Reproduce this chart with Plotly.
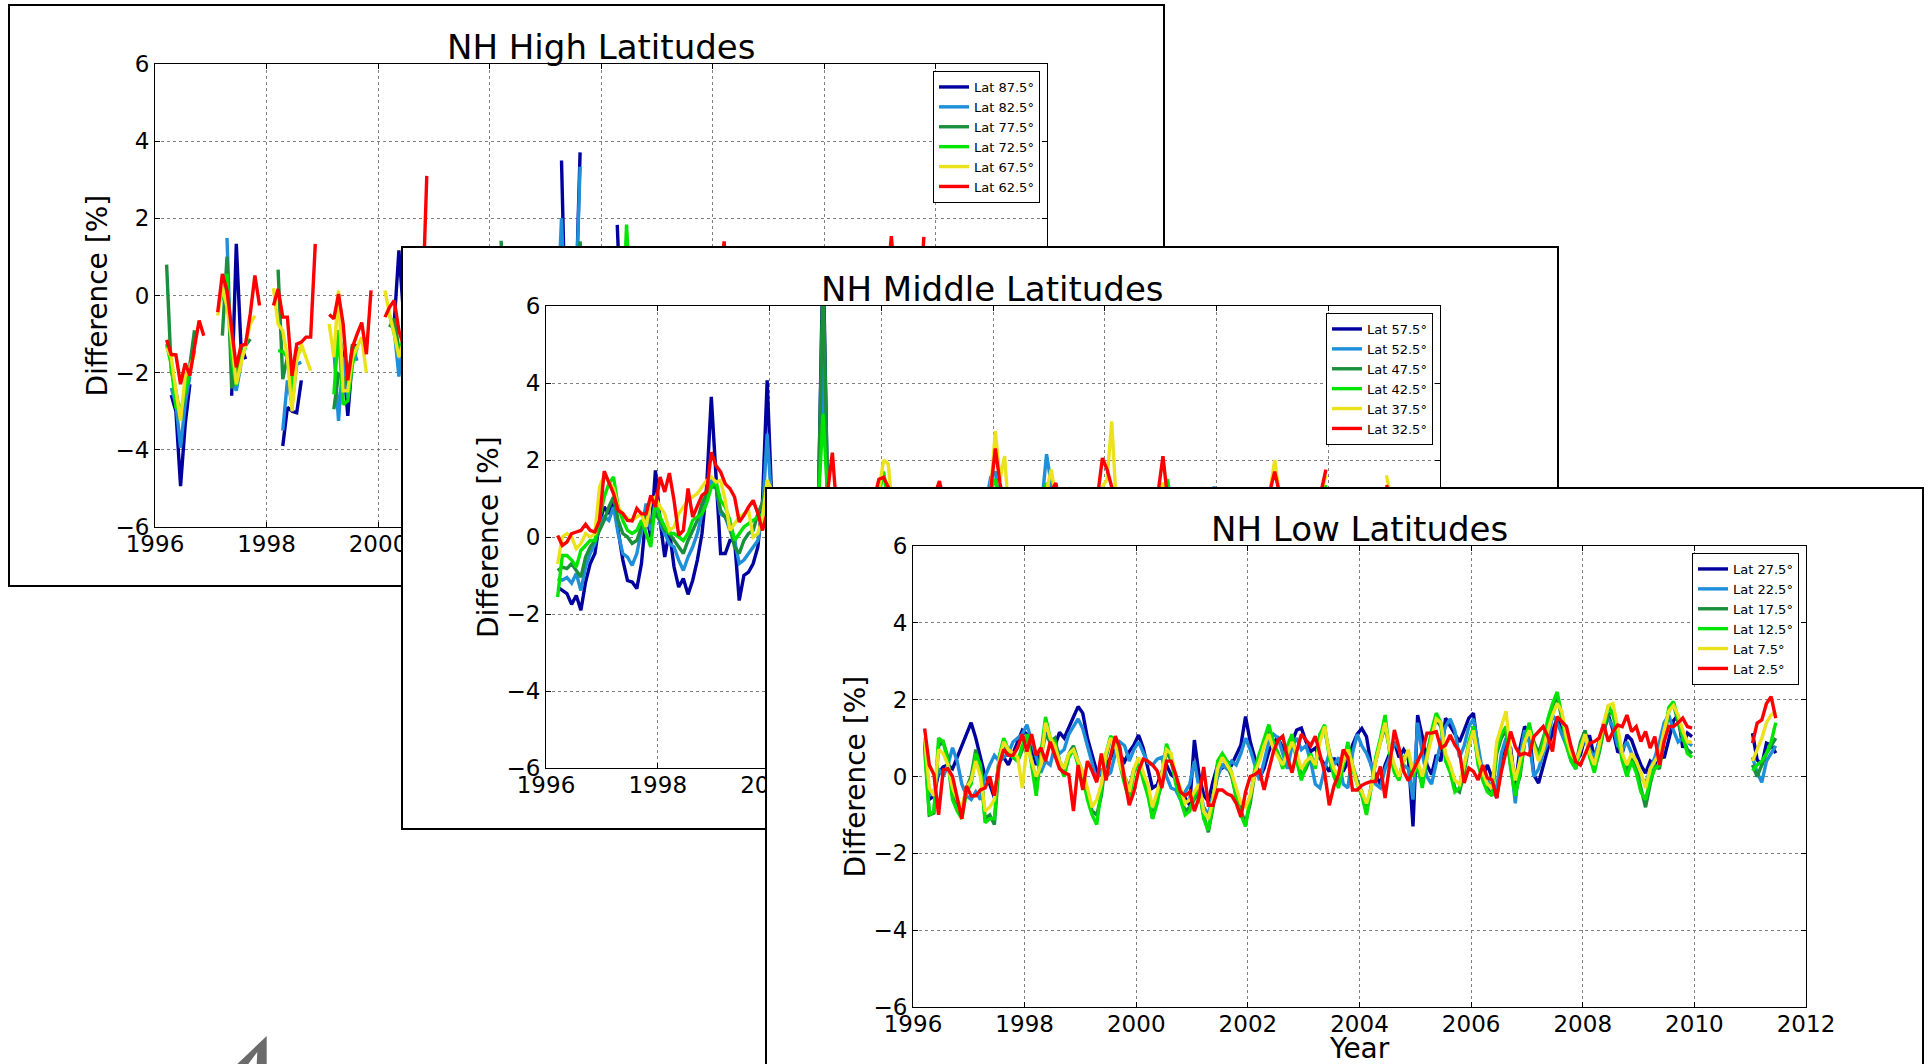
import plotly.graph_objects as go

# ---------------------------------------------------------------- data
# monthly values, March 1996 .. December 2009 (166 months), then Jan..Jun 2011
START_YEAR, START_MONTH, N_MAIN = 1996, 3, 166
months_main = [START_YEAR + (START_MONTH - 1 + k + 0.5) / 12 for k in range(N_MAIN)]
months_2011 = [2011 + (m + 0.5) / 12 for m in range(6)]

x_ticks = [1996, 1998, 2000, 2002, 2004, 2006, 2008, 2010, 2012]
x_ticktext = ["1996", "1998", "2000", "2002", "2004", "2006", "2008", "2010", "2012"]
y_ticks = [-6, -4, -2, 0, 2, 4, 6]
y_ticktext = ["\u22126", "\u22124", "\u22122", "0", "2", "4", "6"]

N = None

# ---- NH High Latitudes
hi_labels = ["Lat 87.5°", "Lat 82.5°", "Lat 77.5°", "Lat 72.5°", "Lat 67.5°", "Lat 62.5°"]
hi_87_5 = [
    N, -2.58, -3.0, -4.94, -3.34, -2.3, N, N, N, N,
    N, N, N, N, -2.6, 1.34, -1.3, -1.65, N, N, N, N,
    N, N, N, -3.9, -2.9, -3.0, -3.04, -2.2, N, N, N, N,
    N, N, N, -0.9, -1.6, -3.12, -1.6, -1.26, N, N, N, N,
    N, N, N, -0.7, 1.17, -0.5, -1.0, -0.8, N, N, N, N,
    N, N, N, -1.5, -2.0, -1.2, -0.8, -1.0, N, N, N, N,
    N, N, N, -1.2, -1.8, -1.0, -0.6, -0.9, N, N, N, N,
    N, N, N, 3.5, -1.5, -0.8, -0.5, 3.71, N, N, N, N,
    N, N, N, 1.83, -1.2, -0.7, -0.4, -0.6, N, N, N, N,
    N, N, N, -1.0, -1.4, -0.9, -0.5, -0.7, N, N, N, N,
    N, N, N, 1.25, -1.1, -0.8, -0.4, -0.6, N, N, N, N,
    N, N, N, -0.8, -1.3, -0.7, -0.3, -0.5, N, N, N, N,
    N, N, N, -0.9, -1.2, -0.8, -0.4, -0.6, N, N, N, N,
    N, N, N, -0.7, -1.1, -0.6, -0.3, -0.5, N, N, N, N,
]
hi_87_5_2011 = [N, N, N, -0.6, -1.0, -0.5]
hi_82_5 = [
    N, -2.4, -2.8, -3.95, -2.8, -2.1, N, N, N, N,
    N, N, N, 1.49, -2.1, -2.47, -1.78, N, N, N, N, N,
    N, N, N, -3.5, -2.2, -2.82, -1.78, -1.73, N, N, N, N,
    N, N, -1.36, -3.25, -1.6, -2.65, -1.34, -1.69, N, N, N, N,
    N, N, N, -0.9, -2.1, -1.0, -1.2, -0.6, N, N, N, N,
    N, N, -1.0, -1.6, -1.9, -1.1, -0.8, -0.9, N, N, N, N,
    N, N, -0.9, -1.4, -1.6, -1.0, -0.7, -0.8, N, N, N, N,
    N, N, -0.8, 2.0, -1.3, -0.8, -0.5, 3.34, N, N, N, N,
    N, N, -0.7, -1.1, -1.4, -0.8, -0.5, -0.6, N, N, N, N,
    N, N, -0.6, -1.0, -1.3, -0.7, -0.4, -0.5, N, N, N, N,
    N, N, -0.5, -0.9, -1.2, -0.7, -0.4, -0.5, N, N, N, N,
    N, N, -0.6, -0.9, -1.1, -0.6, -0.3, -0.4, N, N, N, N,
    N, N, -0.5, -0.8, -1.1, -0.6, -0.3, -0.5, N, N, N, N,
    N, N, -0.4, -0.7, -1.0, -0.5, -0.2, -0.4, N, N, N, N,
]
hi_82_5_2011 = [N, N, -0.4, -0.7, -0.9, -0.5]
hi_77_5 = [
    0.8, -1.95, -2.47, -3.2, -2.5, -1.8, -0.9, N, N, N,
    N, N, -1.04, 1.0, -2.4, -2.1, -1.35, -1.3, -1.13, N, N, N,
    N, N, 0.67, -2.17, -1.6, -2.65, -1.43, -1.34, N, N, N, N,
    N, N, -2.95, -2.04, -2.13, -2.3, -1.26, -1.43, N, N, N, N,
    N, N, -0.82, -0.6, -1.4, -1.2, -0.9, -0.7, -0.5, N, N, N,
    N, N, -0.5, -1.3, -1.6, -1.1, -0.8, -0.6, -0.7, N, N, N,
    N, N, 1.42, -1.2, -1.5, -1.0, -0.7, -0.5, -0.6, N, N, N,
    N, N, -0.3, -1.1, -1.4, -0.9, -0.6, 1.4, -0.5, N, N, N,
    N, N, -0.4, -1.0, -1.3, -0.8, -0.5, -0.4, -0.5, N, N, N,
    N, N, -0.3, -0.9, -1.2, -0.7, -0.5, -0.3, -0.4, N, N, N,
    N, N, -0.2, -0.8, -1.1, -0.7, -0.4, -0.3, -0.4, N, N, N,
    N, N, -0.3, -0.8, -1.0, -0.6, -0.4, -0.2, -0.3, N, N, N,
    N, N, -0.2, -0.7, -1.0, -0.6, -0.3, -0.2, -0.3, N, N, N,
    N, N, -0.1, -0.6, -0.9, -0.5, -0.3, -0.1, -0.2, N, N, N,
]
hi_77_5_2011 = [N, N, -0.2, -0.6, -0.9, -0.5]
hi_72_5 = [
    -1.26, -1.8, -2.9, -3.0, -2.5, -1.95, -1.43, N, N, N,
    N, N, -0.13, 0.56, -1.6, -2.34, -1.6, -1.35, N, N, N, N,
    N, N, -1.43, -1.45, -1.6, -2.47, -1.6, -1.34, N, N, N, N,
    N, N, -2.56, -0.9, -2.82, -2.73, -1.78, -1.34, N, N, N, N,
    N, N, -0.5, -1.0, -1.5, -1.1, -0.8, -0.6, N, N, N, N,
    N, N, -0.6, -1.2, -1.5, -1.0, -0.7, -0.5, N, N, N, N,
    N, N, -0.4, -1.0, -1.4, -0.9, -0.6, -0.4, N, N, N, N,
    N, N, -0.3, -0.9, -1.3, -0.8, -0.5, -0.3, N, N, N, N,
    N, N, -0.3, -0.8, -1.2, 1.84, -0.5, -0.3, N, N, N, N,
    N, N, -0.2, -0.8, -1.1, -0.7, -0.4, -0.2, N, N, N, N,
    N, N, -0.2, -0.7, -1.0, -0.7, -0.4, -0.2, N, N, N, N,
    N, N, -0.1, -0.7, -1.0, -0.6, -0.3, -0.1, N, N, N, N,
    N, N, -0.2, -0.6, -0.9, -0.6, -0.3, -0.2, N, N, N, N,
    N, N, -0.1, -0.6, -0.9, -0.5, -0.2, -0.1, N, N, N, N,
]
hi_72_5_2011 = [N, N, -0.2, -0.5, -0.8, -0.4]
hi_67_5 = [
    -1.35, -1.6, -2.47, -3.25, -2.1, -1.86, -1.5, N, N, N,
    N, -0.52, 0.22, -0.3, -1.17, -2.3, -1.78, -1.26, -0.74, -0.52, N, N,
    N, 0.19, -0.74, -0.91, -1.6, -3.0, -1.69, -1.26, -1.6, -1.95, N, N,
    N, -0.74, -1.6, 0.13, -2.47, -2.47, -1.6, -1.34, -1.08, -2.0, N, N,
    N, 0.13, -0.5, -1.0, -1.6, -1.2, -0.9, -0.7, -0.9, -0.6, N, N,
    N, 0.0, -0.4, -0.9, -1.3, -1.0, -0.7, -0.5, -0.7, -0.5, N, N,
    N, -0.1, -0.5, -0.8, -1.2, -0.9, -0.6, -0.4, -0.6, -0.4, N, N,
    N, 0.1, -0.3, -0.8, -1.1, -0.8, -0.5, -0.3, -0.5, -0.3, N, N,
    N, 0.0, -0.4, -0.7, -1.0, -0.8, -0.5, -0.3, -0.4, -0.3, N, N,
    N, 0.1, -0.3, -0.7, -1.0, -0.7, -0.4, -0.2, -0.4, -0.2, N, N,
    N, 0.2, -0.2, -0.6, -0.9, -0.7, -0.4, -0.2, -0.3, -0.2, N, N,
    N, 0.1, -0.3, -0.6, -0.9, -0.6, -0.3, -0.1, -0.3, -0.1, N, N,
    N, 0.0, -0.3, -0.6, -0.8, -0.6, -0.3, -0.1, -0.2, -0.1, N, N,
    N, 0.2, -0.2, -0.5, -0.8, -0.5, -0.2, 0.0, -0.2, 0.0, N, N,
]
hi_67_5_2011 = [N, 0.0, -0.4, -0.8, -1.1, -0.8]
hi_62_5 = [
    -1.15, -1.53, -1.54, -2.3, -1.76, -2.08, -1.34, -0.65, -1.04, N,
    N, -0.43, 0.56, 0.13, -0.91, -1.86, -1.3, -1.26, -0.48, 0.52, -0.26, N,
    N, -0.26, 0.17, -0.56, -0.56, -2.08, -1.26, -1.21, -1.08, -1.08, 1.34, N,
    N, -0.49, -0.6, 0.04, -0.74, -2.2, -1.34, -1.0, -0.7, -1.52, 0.13, N,
    N, -0.56, -0.3, -0.13, -0.91, -1.3, -1.0, -0.8, -1.2, -0.6, 3.1, N,
    N, -0.6, -0.2, -0.5, -1.2, -1.6, -1.1, -0.9, -0.7, -1.0, 0.4, N,
    N, -0.5, 0.0, -0.4, -1.0, -1.7, -1.2, -0.8, -0.9, -1.1, 0.2, N,
    N, -0.4, 0.1, -0.6, -1.1, -1.5, -1.0, -0.7, -0.8, -0.9, 0.5, N,
    N, -0.3, 0.2, -0.5, -0.9, -1.4, -0.9, -0.6, -0.7, -0.8, 0.3, N,
    N, -0.2, 0.1, -0.3, -0.8, -1.3, -0.8, -0.5, -0.6, -0.7, 0.6, N,
    N, 0.1, 1.4, -0.2, -0.7, -1.2, -0.7, -0.4, -0.5, -0.6, 0.4, N,
    N, 0.0, 0.3, -0.1, -0.6, -1.1, -0.6, -0.3, -0.4, -0.5, 0.5, N,
    N, -0.1, 0.2, -0.2, -0.7, -1.0, -0.5, -0.3, -0.4, -0.6, 0.7, N,
    N, 0.2, 1.54, 0.0, -0.5, -0.9, -0.4, -0.2, -0.3, 1.52, N, N,
]
hi_62_5_2011 = [N, 0.0, -0.5, -1.0, -1.2, -0.8]

# ---- NH Middle Latitudes
mid_labels = ["Lat 57.5°", "Lat 52.5°", "Lat 47.5°", "Lat 42.5°", "Lat 37.5°", "Lat 32.5°"]
mid_57_5 = [
    -1.3, -1.39, -1.47, -1.75, -1.52, -1.9, -1.17, -0.69, -0.43, 0.39,
    0.78, 0.6, 0.95, 0.17, -0.6, -1.13, -1.17, -1.34, -0.69, 0.6, 0.0, 1.73,
    0.43, -0.52, 0.17, -0.78, -1.3, -1.08, -1.49, -1.13, -0.6, 0.09, 1.3, 3.64,
    1.65, -0.43, -0.43, -0.09, -0.09, -1.65, -1.0, -0.91, -0.69, -0.26, 0.95, 4.07,
    0.9, -0.2, -0.5, -0.8, -0.9, -0.6, -0.3, 0.0, 0.2, 0.5, 0.8, 7.5,
    0.8, 0.4, -0.2, -0.5, -0.7, -0.4, -0.2, 0.1, 0.3, 0.5, 0.6, 0.9,
    1.0, 0.6, 0.1, -0.3, -0.5, -0.4, -0.1, 0.2, 0.4, 0.6, 0.8, 0.9,
    1.0, 0.5, 0.0, -0.3, -0.4, -0.3, 0.0, 0.2, 0.4, 0.5, 0.7, 1.1,
    1.2, 0.6, 0.1, -0.2, -0.4, -0.3, 0.0, 0.3, 0.5, 0.6, 0.8, 1.1,
    1.0, 0.5, 0.1, -0.2, -0.3, -0.2, 0.1, 0.3, 0.4, 0.6, 0.8, 1.0,
    1.1, 0.6, 0.2, -0.1, -0.3, -0.2, 0.1, 0.3, 0.5, 0.7, 0.9, 1.0,
    1.0, 0.5, 0.2, -0.1, -0.2, -0.1, 0.2, 0.4, 0.5, 0.7, 0.9, 1.1,
    1.0, 0.6, 0.2, 0.0, -0.2, -0.1, 0.2, 0.4, 0.6, 0.8, 0.9, 1.0,
    1.1, 0.6, 0.3, 0.0, -0.1, 0.0, 0.2, 0.4, 0.6, 0.8, 1.0, 1.1,
]
mid_57_5_2011 = [1.0, 0.6, 0.3, 0.1, 0.0, 0.2]
mid_52_5 = [
    -1.08, -1.12, -1.05, -1.2, -0.95, -1.39, -0.78, -0.43, -0.17, 0.26,
    0.52, 0.43, 0.78, 0.09, -0.43, -0.52, -0.74, -0.43, 0.17, 0.87, 0.17, 0.95,
    0.35, 0.09, -0.17, -0.26, -0.6, -0.87, -0.52, -0.26, 0.09, 0.6, 0.95, 1.5,
    1.3, 0.6, 0.52, 0.17, -0.09, -0.69, -0.6, -0.43, -0.26, -0.09, 0.6, 2.68,
    0.8, 0.0, -0.3, -0.5, -0.6, -0.4, -0.2, 0.1, 0.3, 0.5, 0.8, 4.5,
    0.9, 0.5, 0.0, -0.3, -0.4, -0.3, -0.1, 0.2, 0.4, 0.5, 0.7, 1.0,
    1.1, 0.7, 0.2, -0.1, -0.3, -0.2, 0.0, 0.3, 0.4, 0.6, 0.8, 1.0,
    1.1, 0.6, 0.1, -0.1, -0.2, -0.1, 0.1, 0.3, 0.4, 0.6, 0.9, 1.55,
    1.7, 0.7, 0.2, 0.0, -0.2, -0.1, 0.1, 0.3, 0.5, 0.7, 0.9, 2.15,
    1.3, 0.6, 0.2, 0.0, -0.1, 0.0, 0.2, 0.4, 0.5, 0.7, 0.9, 1.1,
    1.1, 0.6, 0.3, 0.0, -0.1, 0.0, 0.2, 0.4, 0.6, 0.7, 0.9, 1.1,
    1.0, 0.6, 0.3, 0.0, -0.1, 0.0, 0.2, 0.4, 0.6, 0.8, 1.0, 1.3,
    1.0, 0.6, 0.3, 0.1, 0.0, 0.1, 0.3, 0.5, 0.6, 0.8, 0.9, 1.0,
    1.1, 0.7, 0.3, 0.1, 0.0, 0.1, 0.3, 0.5, 0.7, 0.9, 1.0, 1.2,
]
mid_52_5_2011 = [1.0, 0.7, 0.4, 0.2, 0.1, 0.3]
mid_47_5 = [
    -0.87, -0.78, -0.82, -0.69, -0.87, -1.04, -0.52, -0.26, -0.09, 0.17,
    0.43, 0.78, 1.04, 0.43, 0.09, 0.0, -0.17, -0.09, 0.26, 0.6, 0.35, 0.6,
    0.43, 0.17, 0.09, -0.09, -0.26, -0.43, -0.09, 0.17, 0.43, 0.87, 1.13, 1.3,
    1.3, 0.69, 0.52, 0.26, -0.26, -0.43, -0.09, 0.09, 0.17, 0.6, 0.9, 1.43,
    1.0, 0.4, 0.0, -0.2, -0.3, -0.2, 0.0, 0.2, 0.4, 0.6, 0.9, 7.0,
    1.0, 0.6, 0.2, 0.0, -0.1, 0.0, 0.1, 0.3, 0.5, 0.6, 0.8, 1.0,
    1.2, 0.8, 0.3, 0.1, 0.0, 0.0, 0.2, 0.4, 0.5, 0.7, 0.9, 1.1,
    1.1, 0.7, 0.3, 0.1, 0.0, 0.1, 0.2, 0.4, 0.5, 0.7, 0.9, 1.1,
    1.2, 0.8, 0.3, 0.1, 0.0, 0.1, 0.2, 0.4, 0.6, 0.7, 0.9, 1.2,
    1.1, 0.7, 0.3, 0.1, 0.1, 0.1, 0.3, 0.4, 0.6, 0.8, 0.9, 1.1,
    1.2, 0.7, 0.3, 0.1, 0.0, 0.1, 0.3, 0.5, 0.6, 0.8, 0.9, 1.1,
    1.2, 0.8, 0.4, 0.2, 0.1, 0.1, 0.3, 0.5, 0.6, 0.8, 1.0, 1.1,
    1.1, 0.7, 0.4, 0.2, 0.1, 0.2, 0.3, 0.5, 0.7, 0.8, 0.9, 1.0,
    1.1, 0.7, 0.4, 0.2, 0.1, 0.2, 0.3, 0.5, 0.7, 0.9, 1.0, 1.3,
]
mid_47_5_2011 = [1.0, 0.8, 0.5, 0.3, 0.2, 0.4]
mid_42_5 = [
    -1.56, -0.48, -0.48, -0.6, -0.78, -0.35, -0.22, -0.09, -0.09, 0.52,
    1.04, 1.39, 1.56, 0.78, 0.43, 0.17, 0.09, 0.17, 0.43, 0.09, -0.26, 0.95,
    0.52, 0.26, 0.09, 0.09, 0.0, -0.09, 0.09, 0.43, 0.52, 0.6, 0.87, 1.3,
    1.43, 0.95, 0.78, 0.43, -0.09, 0.09, 0.26, 0.35, 0.43, 0.52, 0.6, 0.8,
    0.9, 0.5, 0.2, 0.0, -0.1, 0.0, 0.1, 0.3, 0.5, 0.7, 0.9, 3.2,
    1.0, 0.7, 0.3, 0.1, 0.0, 0.1, 0.2, 0.4, 0.5, 0.7, 0.9, 1.1,
    1.7, 0.9, 0.4, 0.2, 0.1, 0.1, 0.3, 0.4, 0.6, 0.7, 0.9, 1.1,
    1.2, 0.8, 0.4, 0.2, 0.1, 0.1, 0.3, 0.4, 0.6, 0.8, 1.0, 1.2,
    1.5, 0.9, 0.4, 0.2, 0.1, 0.2, 0.3, 0.5, 0.6, 0.8, 1.0, 1.4,
    1.1, 0.8, 0.4, 0.2, 0.1, 0.2, 0.3, 0.5, 0.6, 0.8, 1.0, 1.2,
    1.2, 0.8, 0.4, 0.2, 0.1, 0.2, 0.3, 0.5, 0.7, 0.8, 1.0, 1.1,
    1.2, 1.5, 0.5, 0.3, 0.2, 0.2, 0.4, 0.5, 0.7, 0.8, 1.0, 1.1,
    1.1, 0.8, 0.5, 0.3, 0.2, 0.2, 0.4, 0.5, 0.7, 0.9, 1.0, 1.1,
    1.2, 0.8, 0.5, 0.3, 0.2, 0.3, 0.4, 0.6, 0.7, 0.9, 1.0, 1.35,
]
mid_42_5_2011 = [1.1, 0.9, 0.6, 0.4, 0.3, 0.5]
mid_37_5 = [
    -0.7, 0.0, 0.09, 0.0, -0.3, -0.17, 0.09, 0.0, 0.09, 1.3,
    1.6, 1.43, 1.26, 0.78, 0.6, 0.48, 0.43, 0.52, 0.6, 0.26, 0.95, 1.04,
    0.78, 0.6, 0.17, 0.26, 0.6, 0.78, 0.95, 1.04, 1.13, 1.3, 1.47, 1.56,
    1.43, 1.47, 0.95, 0.17, 0.35, 0.52, 0.6, 0.69, 0.0, 0.09, 0.5, 1.48,
    1.2, 0.8, 0.4, 0.2, 0.1, 0.2, 0.3, 0.5, 0.6, 0.8, 1.0, 1.2,
    1.1, 1.0, 0.5, 0.3, 0.2, 0.2, 0.4, 0.5, 0.7, 0.8, 1.0, 1.2,
    2.0, 1.9, 0.6, 0.3, 0.2, 0.3, 0.4, 0.5, 0.7, 0.9, 1.0, 1.1,
    1.35, 0.9, 0.5, 0.3, 0.2, 0.3, 0.4, 0.6, 0.7, 0.9, 1.0, 1.2,
    2.75, 1.5, 2.1, 0.4, 0.2, 0.3, 0.4, 0.6, 0.7, 0.9, 1.1, 1.2,
    1.75, 1.0, 0.5, 0.3, 0.2, 0.3, 0.5, 0.6, 0.8, 0.9, 1.1, 1.3,
    1.5, 3.0, 0.8, 0.4, 0.3, 0.3, 0.5, 0.6, 0.8, 0.9, 1.1, 1.2,
    1.4, 1.0, 0.6, 0.4, 0.3, 0.3, 0.5, 0.7, 0.8, 1.0, 1.1, 1.2,
    1.2, 0.9, 0.6, 0.4, 0.3, 0.4, 0.5, 0.7, 0.8, 1.0, 1.1, 1.2,
    2.0, 1.1, 0.6, 0.4, 0.3, 0.4, 0.5, 0.7, 0.9, 1.0, 1.2, 1.6,
]
mid_37_5_2011 = [1.6, 1.0, 0.7, 0.5, 0.4, 0.6]
mid_32_5 = [
    0.04, -0.22, -0.13, 0.09, 0.13, 0.17, 0.33, 0.17, 0.13, 0.43,
    1.71, 1.43, 1.13, 0.69, 0.61, 0.43, 0.42, 0.74, 0.6, 0.6, 1.08, 0.78,
    1.56, 1.17, 1.66, 0.95, 0.04, 0.17, 1.26, 0.52, 0.78, 1.08, 1.17, 2.2,
    1.86, 1.69, 1.38, 1.26, 1.04, 0.39, 0.56, 0.78, 0.95, 0.61, 0.17, 0.64,
    0.9, 0.6, 0.3, 0.2, 0.1, 0.2, 0.3, 0.5, 0.6, 0.8, 1.0, 1.1,
    1.2, 2.19, 0.6, 0.3, 0.2, 0.3, 0.4, 0.5, 0.7, 0.8, 1.0, 1.5,
    1.55, 1.3, 0.6, 0.3, 0.2, 0.3, 0.4, 0.6, 0.7, 0.9, 1.0, 1.1,
    1.45, 0.9, 0.5, 0.3, 0.2, 0.3, 0.4, 0.6, 0.7, 0.9, 1.0, 1.2,
    2.3, 1.4, 0.7, 0.4, 0.2, 0.3, 0.4, 0.6, 0.7, 0.9, 1.1, 1.2,
    1.2, 1.4, 0.6, 0.3, 0.2, 0.3, 0.5, 0.6, 0.8, 0.9, 1.1, 2.05,
    1.75, 1.3, 0.6, 0.4, 0.3, 0.3, 0.5, 0.6, 0.8, 0.9, 1.1, 1.2,
    2.1, 1.0, 0.6, 0.4, 0.3, 0.3, 0.5, 0.7, 0.8, 1.0, 1.1, 1.2,
    1.2, 0.9, 0.6, 0.4, 0.3, 0.4, 0.5, 0.7, 0.8, 1.0, 1.1, 1.2,
    1.7, 1.1, 0.6, 0.4, 0.3, 0.4, 0.5, 0.7, 0.9, 1.0, 1.2, 1.75,
]
mid_32_5_2011 = [1.35, 1.0, 0.7, 0.5, 0.4, 0.6]

# ---- NH Low Latitudes
low_labels = ["Lat 27.5°", "Lat 22.5°", "Lat 17.5°", "Lat 12.5°", "Lat 7.5°", "Lat 2.5°"]
low_27_5 = [
    0.9, -0.6, -0.5, 0.1, 0.25, 0.3, 0.2, 0.5, 0.8, 1.1,
    1.4, 1.0, 0.5, 0.0, -0.2, -0.55, 0.4, 0.5, 0.3, 0.6, 0.95, 1.2,
    1.1, 0.8, 0.3, 0.65, 1.15, 0.9, 0.8, 1.15, 1.0, 1.3, 1.55, 1.82,
    1.65, 1.0, 0.55, 0.13, 0.04, 0.3, 0.48, 0.82, 0.56, 0.39, 0.65, 0.82,
    1.08, 0.74, 0.22, -0.3, -0.22, 0.13, 0.3, 0.04, -0.04, -0.39, -0.56, -0.74,
    0.95, 0.04, -0.48, -0.65, -0.13, 0.3, 0.22, 0.39, 0.3, 0.55, 0.82, 1.56,
    0.91, 0.48, -0.04, 0.22, 0.65, 0.91, 1.0, 0.74, 0.3, 0.91, 1.21, 1.26,
    0.91, 0.65, 0.74, 0.48, 0.3, 0.13, 0.48, 0.3, 0.13, 0.4, 0.82, 1.1,
    1.25, 1.04, 0.3, 0.04, -0.2, 0.3, 0.6, 0.9, 0.5, 0.7, 0.5, -1.3,
    1.6, 1.04, 0.3, 0.05, 0.56, 0.4, 1.52, 1.3, 1.1, 0.9, 1.2, 1.52,
    1.65, 0.65, 0.0, 0.3, -0.04, -0.56, 0.48, 0.91, 0.74, -0.26, 0.74, 1.3,
    1.17, 0.04, -0.17, 0.3, 0.74, 1.17, 1.52, 1.17, 1.04, 0.69, 0.39, 0.56,
    1.04, 1.04, 0.48, 0.91, 1.17, 1.6, 1.21, 0.65, 0.61, 1.08, 0.95, 0.61,
    0.3, 0.09, 0.4, 0.3, 0.65, 0.48, 1.0, 1.45, 1.6, 0.75, 1.13, 1.04,
]
low_27_5_2011 = [1.13, 0.43, 0.3, 0.87, 0.82, 0.61]
low_22_5 = [
    1.0, -0.5, -0.4, 0.2, 0.0, 0.3, 0.75, 0.4, -0.2, -0.5,
    -0.6, -0.4, -0.6, 0.0, 0.3, 0.55, 0.4, 0.5, 0.6, 0.9, 1.0, 1.1,
    1.35, 0.9, 0.5, 0.1, 0.4, 0.3, 0.8, 0.6, 0.7, 1.1, 1.3, 1.5,
    1.25, 0.8, 0.3, -0.1, 0.2, 0.0, 0.1, 0.6, 0.9, 0.8, 0.4, 0.7,
    0.9, 0.6, 0.35, 0.3, 0.45, 0.5, 0.0, -0.3, -0.35, -0.6, -0.4, -0.2,
    0.4, -0.3, -0.8, -1.0, -0.5, 0.0, 0.3, 0.2, 0.4, 0.3, 0.6, 1.0,
    0.7, 0.3, -0.1, 0.4, 0.9, 1.1, 1.0, 0.6, 0.2, 0.8, 1.0, 0.7,
    0.8, 0.4, -0.2, -0.3, 0.2, 0.6, 0.3, 0.5, -0.2, -0.3, 0.6, 1.1,
    0.8, 0.6, 0.3, -0.2, -0.3, 0.2, 0.5, 0.9, 0.7, 0.3, 0.2, -0.6,
    1.4, 0.6, 0.0, -0.2, 0.4, 0.9, 1.3, 1.5, 1.2, 0.5, 0.8, 1.3,
    1.5, 0.8, 0.1, -0.1, -0.3, -0.3, 0.6, 1.0, 0.4, -0.7, 0.5, 1.2,
    0.9, 0.0, 0.2, 0.6, 0.9, 1.6, 1.4, 1.1, 0.8, 0.4, 0.2, 0.7,
    1.0, 0.7, 0.5, 0.9, 1.4, 1.5, 1.3, 0.8, 0.7, 0.9, 0.6, 0.4,
    0.0, -0.2, 0.2, 0.5, 0.9, 1.4, 1.6, 1.2, 0.9, 1.0, 0.9, 0.8,
]
low_22_5_2011 = [0.5, 0.1, -0.15, 0.4, 0.6, 0.8]
low_17_5 = [
    0.9, -1.0, -0.95, 0.8, 0.9, 0.5, -0.5, -0.7, -0.9, -0.3,
    0.0, 0.7, 0.2, -1.1, -1.0, -1.25, 0.3, 0.8, 0.6, 0.5, 0.4, 0.7,
    1.1, 0.4, -0.3, 0.5, 1.1, 0.9, 1.0, 0.4, 0.2, 0.6, 0.8, 0.4,
    0.1, -0.4, -0.9, -1.0, -0.5, 0.5, 1.0, 0.9, 0.4, 0.0, -0.3, 0.2,
    0.3, 0.0, -0.3, -1.1, -0.6, -0.2, 0.7, 0.4, -0.1, -0.5, -0.9, -0.8,
    -0.6, -0.4, -1.0, -1.45, -0.8, 0.2, 0.5, 0.3, 0.0, -0.5, -0.9, -1.2,
    -0.7, 0.1, 0.5, 0.9, 1.2, 0.8, 0.6, 0.3, 0.7, 1.0, 0.5, 0.0,
    0.2, 0.5, 0.3, 1.1, 1.2, 0.6, 0.1, -0.2, 0.4, 0.8, 0.3, -0.1,
    -0.4, -0.9, -0.2, 0.4, 0.9, 1.3, 0.7, 0.2, 0.0, 0.4, 0.6, 0.1,
    0.2, -0.2, 0.6, 1.1, 1.5, 1.3, 0.5, 0.2, -0.3, -0.4, 0.1, 0.8,
    1.2, 0.4, 0.0, -0.3, -0.5, 0.6, 1.0, 1.2, 0.3, -0.4, 0.0, 0.9,
    1.3, 0.9, 0.6, 1.0, 1.4, 1.8, 2.1, 1.5, 0.9, 0.5, 0.3, 0.9,
    1.2, 0.6, 0.2, 0.6, 1.2, 1.6, 1.7, 1.2, 0.5, 0.1, 0.5, 0.2,
    -0.3, -0.8, -0.2, 0.3, 0.2, 1.0, 1.7, 1.9, 1.4, 1.0, 0.7, 0.6,
]
low_17_5_2011 = [0.3, 0.0, 0.3, 0.6, 0.8, 1.0]
low_12_5 = [
    0.7, -1.0, -0.9, 1.0, 0.9, 0.4, -0.6, -0.9, -1.1, -0.4,
    -0.2, 0.6, 0.3, -1.2, -1.1, -1.1, 0.5, 1.0, 0.7, 0.5, 0.4, 0.8,
    1.1, 0.3, -0.5, 0.6, 1.55, 1.0, 0.9, 0.3, 0.0, 0.5, 0.7, 0.3,
    0.0, -0.6, -1.0, -1.25, -0.4, 0.6, 1.05, 0.9, 0.3, -0.2, -0.6, 0.1,
    0.4, -0.1, -0.5, -1.1, -0.7, 0.0, 0.85, 0.5, -0.2, -0.6, -1.0, -0.9,
    -0.5, -0.3, -1.1, -1.4, -0.7, 0.4, 0.6, 0.4, 0.1, -0.6, -1.0, -1.3,
    -0.6, 0.2, 0.6, 1.0, 1.35, 0.9, 0.6, 0.2, 0.8, 1.1, 0.4, -0.1,
    0.3, 0.6, 0.2, 1.1, 1.35, 0.5, 0.0, -0.3, 0.3, 0.9, 0.2, -0.2,
    -0.5, -1.0, -0.3, 0.5, 1.0, 1.6, 0.6, 0.1, -0.1, 0.5, 0.6, 0.0,
    0.3, -0.3, 0.5, 1.2, 1.65, 1.4, 0.4, 0.1, -0.4, -0.3, 0.2, 0.9,
    1.3, 0.3, -0.1, -0.4, -0.5, 0.7, 1.1, 1.3, 0.2, -0.5, 0.1, 0.9,
    1.4, 0.8, 0.5, 0.9, 1.5, 1.9, 2.2, 1.6, 0.8, 0.4, 0.2, 0.8,
    1.1, 0.5, 0.1, 0.7, 1.3, 1.85, 1.6, 1.1, 0.4, 0.0, 0.4, 0.1,
    -0.4, -0.6, -0.1, 0.2, 0.3, 1.1, 1.8, 1.95, 1.5, 1.0, 0.6, 0.5,
]
low_12_5_2011 = [0.15, 0.3, 0.4, 0.6, 0.9, 1.4]
low_7_5 = [
    1.0, -0.3, -0.5, 0.7, 0.6, 0.3, -0.3, -0.6, -0.8, -0.3,
    -0.1, 0.4, 0.0, -0.9, -0.8, -0.6, 0.4, 0.9, 0.7, 0.6, 0.5, -0.3,
    0.8, 0.4, 0.0, 0.3, 1.4, 1.0, 0.8, 0.4, 0.2, 0.6, 0.7, 0.4,
    0.1, -0.3, -0.8, -0.6, -0.2, 0.6, 1.0, 0.8, 0.3, 0.0, -0.4, 0.2,
    0.5, 0.1, -0.2, -0.8, -0.4, 0.1, 0.7, 0.6, 0.0, -0.3, -0.7, -0.6,
    -0.4, -0.2, -0.9, -1.1, -0.6, 0.2, 0.5, 0.3, 0.1, -0.3, -0.7, -0.8,
    -0.5, 0.1, 0.4, 0.8, 1.1, 0.7, 0.5, 0.3, 0.6, 0.9, 0.6, 0.2,
    0.4, 0.5, 0.3, 0.9, 1.3, 0.6, 0.2, 0.0, 0.4, 0.7, 0.3, -0.2,
    -0.4, -0.7, -0.3, 0.4, 0.9, 1.4, 0.7, 0.3, 0.0, 0.4, 0.7, 0.1,
    0.4, 0.0, 0.5, 1.0, 1.5, 1.4, 0.6, 0.3, -0.1, -0.2, 0.3, 0.8,
    1.2, 0.5, 0.1, -0.2, -0.3, 0.9, 1.3, 1.7, 0.6, -0.1, 0.4, 0.9,
    1.2, 0.8, 0.4, 0.7, 1.2, 1.6, 1.9, 1.7, 1.0, 0.6, 0.4, 0.7,
    1.1, 0.6, 0.3, 0.8, 1.4, 1.85, 1.9, 1.3, 0.6, 0.3, 0.6, 0.4,
    0.1, -0.3, 0.2, 0.4, 0.6, 1.2, 1.7, 1.85, 1.6, 1.2, 0.9, 0.9,
]
low_7_5_2011 = [0.4, 0.7, 1.0, 1.4, 1.6, 1.7]
low_2_5 = [
    1.25, 0.3, 0.05, -1.0, 0.17, 0.2, 0.0, -0.55, -1.1, -0.25,
    -0.5, -0.5, -0.35, -0.3, 0.0, -0.5, 0.3, 0.7, 0.55, 0.55, 0.75, 1.1,
    0.65, 1.1, 0.55, 0.75, 0.4, 0.9, 0.55, 0.2, 0.1, 0.05, -0.9, 0.3,
    -0.35, 0.4, 0.15, -0.15, 0.6, -0.1, 0.55, 1.05, 0.75, -0.1, -0.75, -0.4,
    0.15, 0.45, 0.4, 0.3, 0.15, -0.3, 0.4, 0.4, 0.05, -0.4, -0.5, -0.4,
    -0.9, -0.55, 0.25, -0.75, -0.75, -0.35, -0.35, -0.45, -0.5, -0.7, -1.05, -0.4,
    0.0, 0.05, 0.15, -0.35, 0.17, 0.65, 0.95, 1.05, 0.5, 0.1, 0.65, 1.1,
    0.95, 0.8, 1.05, 0.6, 0.1, -0.75, -0.25, 0.05, 0.7, 0.5, -0.35, -0.35,
    -0.23, -0.17, -0.13, -0.13, 0.26, -0.56, 0.39, 1.21, 0.74, 0.13, -0.11, 0.13,
    0.4, 0.65, 1.13, 1.13, 1.17, 0.74, 0.82, 1.08, 0.82, 0.65, -0.17, 0.22,
    0.13, -0.09, 0.3, -0.04, -0.09, -0.56, 0.13, 0.69, 1.17, 0.78, 0.56, 0.61,
    0.56, 1.04, 1.17, 1.3, 1.04, 0.65, 1.56, 1.43, 1.3, 0.78, 0.39, 0.3,
    0.6, 0.87, 0.91, 1.0, 1.36, 0.91, 1.17, 1.34, 1.3, 1.6, 1.17, 1.3,
    0.91, 1.17, 0.74, 1.04, 0.3, 0.91, 1.3, 1.3, 1.4, 1.52, 1.3, 1.26,
]
low_2_5_2011 = [0.87, 1.39, 1.47, 1.9, 2.08, 1.52]

# ---------------------------------------------------------------- styling
W, H = 1931, 1064
SERIES_COLORS = ["#00009e", "#1e8fd8", "#1a8f3c", "#00e400", "#ece21c", "#ff0000"]
FONT = "DejaVu Sans, Verdana, sans-serif"

PANELS = [
    dict(title="NH High Latitudes", labels=hi_labels,
         series=[(hi_87_5, hi_87_5_2011), (hi_82_5, hi_82_5_2011), (hi_77_5, hi_77_5_2011),
                 (hi_72_5, hi_72_5_2011), (hi_67_5, hi_67_5_2011), (hi_62_5, hi_62_5_2011)],
         frame=(10, 6, 1163, 585), plot=(155, 64, 1047, 527), xlabel=False),
    dict(title="NH Middle Latitudes", labels=mid_labels,
         series=[(mid_57_5, mid_57_5_2011), (mid_52_5, mid_52_5_2011), (mid_47_5, mid_47_5_2011),
                 (mid_42_5, mid_42_5_2011), (mid_37_5, mid_37_5_2011), (mid_32_5, mid_32_5_2011)],
         frame=(403, 248, 1557, 828), plot=(546, 306, 1440, 768), xlabel=False),
    dict(title="NH Low Latitudes", labels=low_labels,
         series=[(low_27_5, low_27_5_2011), (low_22_5, low_22_5_2011), (low_17_5, low_17_5_2011),
                 (low_12_5, low_12_5_2011), (low_7_5, low_7_5_2011), (low_2_5, low_2_5_2011)],
         frame=(767, 489, 1922, 1064), plot=(913, 546, 1806, 1007), xlabel=True),
]


def fx(px):
    return px / W


def fy(py):
    return 1 - py / H


fig = go.Figure()
layout = dict(
    width=W, height=H, autosize=False,
    margin=dict(l=0, r=0, t=0, b=0, pad=0, autoexpand=False),
    paper_bgcolor="white", plot_bgcolor="white",
    showlegend=True, hovermode=False,
    font=dict(family=FONT, color="black"),
    annotations=[], shapes=[],
)

for i, p in enumerate(PANELS):
    c, d = 2 * i + 1, 2 * i + 2          # cover subplot, data subplot
    cs, ds = ("" if c == 1 else str(c)), str(d)
    legend_id = "legend" if i == 0 else "legend%d" % (i + 1)

    # white cover sheet with black frame (hides the panel behind it)
    fig.add_trace(go.Scatter(x=[], y=[], xaxis="x" + cs, yaxis="y" + cs,
                             showlegend=False, hoverinfo="skip"))
    fx0, fy0, fx1, fy1 = p["frame"]
    last = (i == len(PANELS) - 1)
    layout["xaxis" + cs] = dict(domain=[fx(fx0), fx(fx1)], anchor="y" + cs, range=[0, 1],
                                showgrid=False, zeroline=False, showticklabels=False,
                                ticks="", showline=True, linecolor="black", linewidth=2,
                                mirror=(not last), side=("top" if last else "bottom"),
                                fixedrange=True, automargin=False)
    layout["yaxis" + cs] = dict(domain=[fy(fy1), fy(fy0)], anchor="x" + cs, range=[0, 1],
                                showgrid=False, zeroline=False, showticklabels=False,
                                ticks="", showline=True, linecolor="black", linewidth=2,
                                mirror=True, fixedrange=True, automargin=False)

    # data subplot
    px0, py0, px1, py1 = p["plot"]
    for (vals, vals11), name, color in zip(p["series"], p["labels"], SERIES_COLORS):
        assert len(vals) == N_MAIN, (name, len(vals))
        fig.add_trace(go.Scatter(
            x=months_main + [None] + months_2011, y=list(vals) + [None] + list(vals11),
            mode="lines", name=name, line=dict(color=color, width=3.4),
            connectgaps=False, xaxis="x" + ds, yaxis="y" + ds, legend=legend_id,
        ))
    axis_common = dict(showgrid=True, gridcolor="#808080", griddash="dot", gridwidth=1,
                       zeroline=False, showline=True, linecolor="black", linewidth=1,
                       mirror="ticks", ticks="inside", ticklen=5, tickcolor="black",
                       tickfont=dict(family=FONT, size=23, color="black"), fixedrange=True,
                       automargin=False)
    layout["xaxis" + ds] = dict(axis_common, domain=[fx(px0), fx(px1)], anchor="y" + ds,
                                range=[1996, 2012], tickvals=x_ticks, ticktext=x_ticktext,
                                ticklabelstandoff=-4)
    layout["yaxis" + ds] = dict(axis_common, domain=[fy(py1), fy(py0)], anchor="x" + ds,
                                range=[-6, 6], tickvals=y_ticks, ticktext=y_ticktext)

    layout[legend_id] = dict(x=fx(px1 - 7), xanchor="right", y=fy(py0 + 7), yanchor="top",
                             bgcolor="white", bordercolor="black", borderwidth=1,
                             font=dict(family=FONT, size=13, color="black"),
                             tracegroupgap=0, itemwidth=30)

    cx = fx((px0 + px1) / 2)
    layout["annotations"].append(dict(text=p["title"], xref="paper", yref="paper",
                                      x=cx, y=fy(py0 - 1), xanchor="center", yanchor="bottom",
                                      yshift=-6, showarrow=False,
                                      font=dict(family=FONT, size=34, color="black")))
    layout["annotations"].append(dict(text="Difference [%]", xref="paper", yref="paper",
                                      x=fx(px0 - 58), y=fy((py0 + py1) / 2), xanchor="center",
                                      yanchor="middle", textangle=-90, showarrow=False,
                                      font=dict(family=FONT, size=28, color="black")))
    if p["xlabel"]:
        layout["annotations"].append(dict(text="Year", xref="paper", yref="paper",
                                          x=cx, y=fy(py1 + 41), xanchor="center", yanchor="middle",
                                          showarrow=False, font=dict(family=FONT, size=28, color="black")))

# grey arrow head at the lower left (slide decoration)
arrow_pts = [(266.7, 1036), (266.7, 1064), (256.7, 1064), (257.3, 1052), (248.3, 1064), (237.3, 1064)]
path = "M " + " L ".join("%.5f,%.5f" % (fx(a), fy(b)) for a, b in arrow_pts) + " Z"
layout["shapes"].append(dict(type="path", path=path, xref="paper", yref="paper",
                             fillcolor="#6b6b6b", line=dict(width=0), layer="above"))

fig.update_layout(**layout)
fig.write_html("out.html", include_plotlyjs=True, config={"displayModeBar": False},
               post_script="document.body.style.margin='0';document.body.style.overflow='hidden';")
